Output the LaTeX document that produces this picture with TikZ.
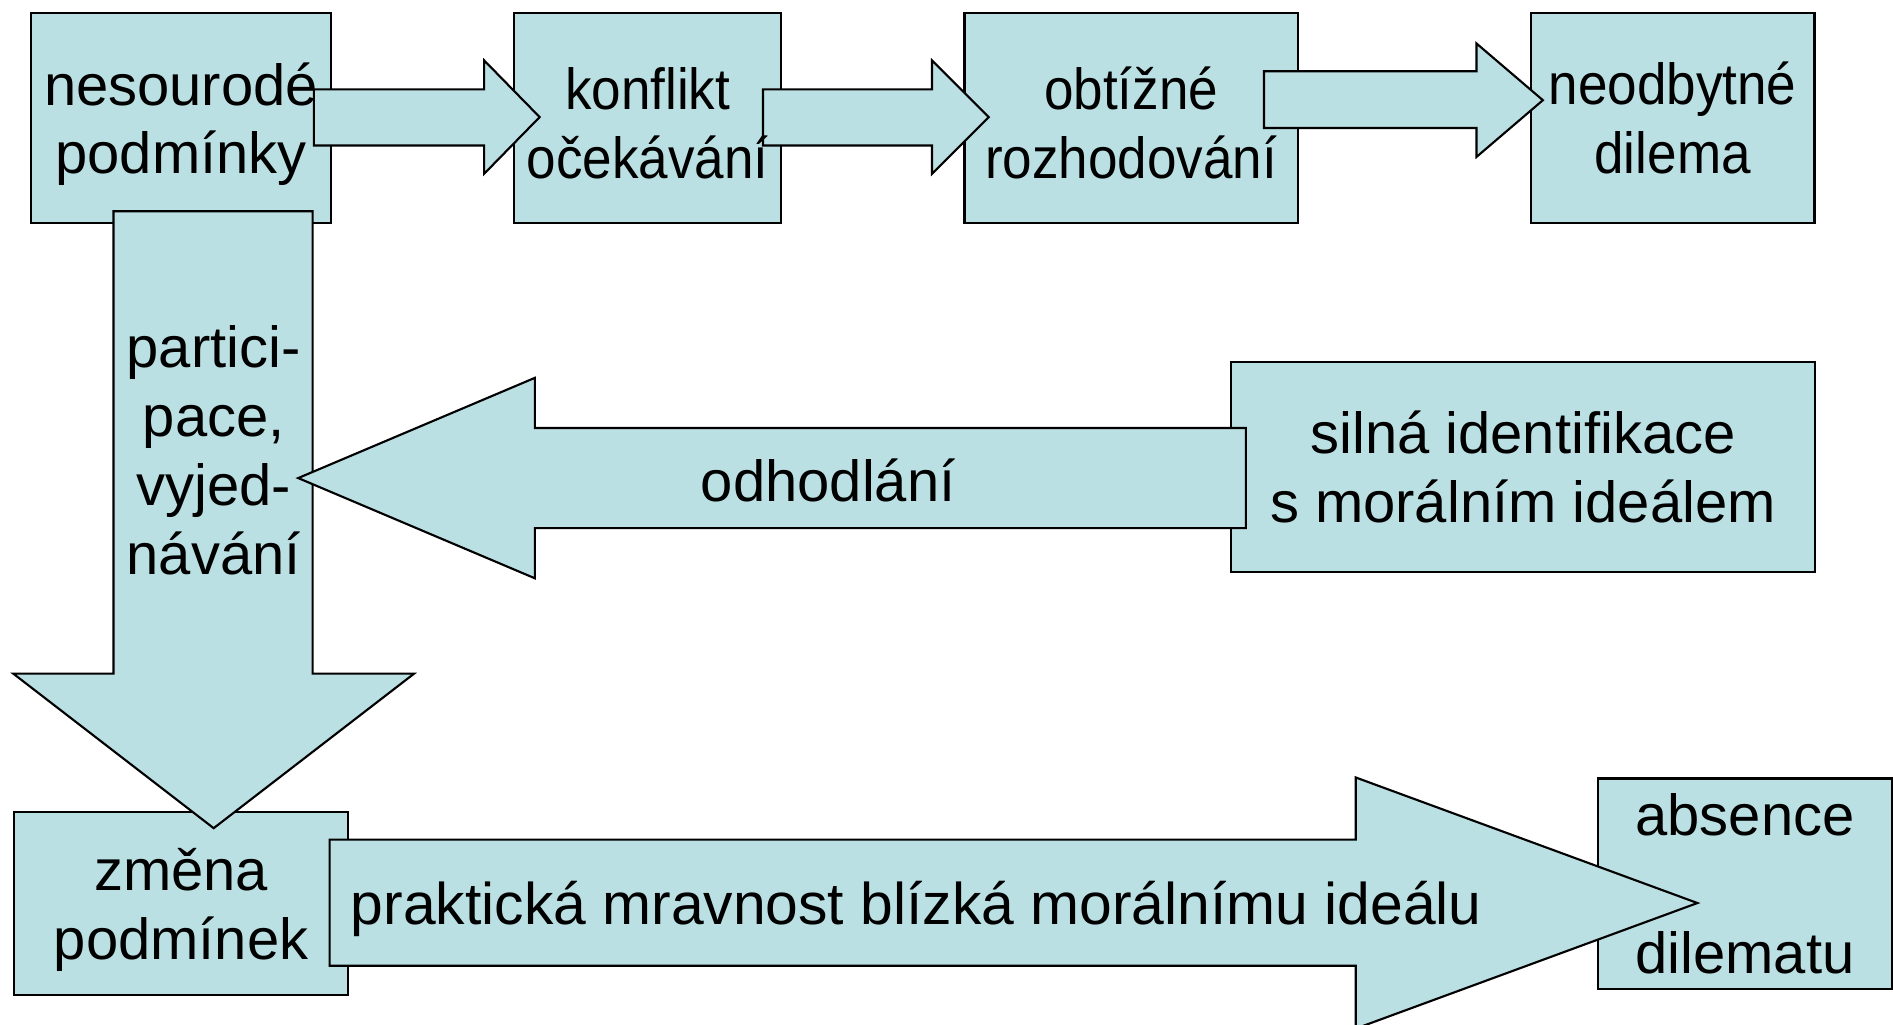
\documentclass[tikz,border=0pt]{standalone}
\usepackage{fontspec}
\usepackage{graphicx}
\setmainfont{Liberation Sans}
\usetikzlibrary{positioning}
\definecolor{paleteal}{HTML}{BBE0E3}
% horizontally condensed two-line text
\newcommand{\narrowtext}[1]{\scalebox{0.915}[1]{\begin{tabular}{@{}c@{}}#1\end{tabular}}}

\begin{document}
\begin{tikzpicture}[
        x=0.01cm, y=-0.01cm,
        box/.style={rectangle, draw, fill=paleteal, line width=0.5pt, inner sep=0pt, anchor=north west},
        blockarrow/.style={draw, fill=paleteal, line width=0.5pt, line join=miter},
        txt/.style={align=center, inner sep=0pt, font=\fontsize{13.65}{16.2}\selectfont}
    ]
        \useasboundingbox (0,0) rectangle (1568,849);

        % boxes
        \node[box, minimum width=2.48cm, minimum height=1.74cm] (nesourode) at (25,10) {};
        \node[box, minimum width=2.21cm, minimum height=1.74cm] (konflikt) at (425,10) {};
        \node[box, minimum width=2.76cm, minimum height=1.74cm] (obtizne) at (798,10) {};
        \node[box, minimum width=2.35cm, minimum height=1.74cm] (neodbytne) at (1267,10) {};
        \node[box, minimum width=4.83cm, minimum height=1.74cm] (silna) at (1019,299) {};
        \node[box, minimum width=2.76cm, minimum height=1.51cm] (zmena) at (11,672) {};
        \node[box, minimum width=2.43cm, minimum height=1.74cm] (absence) at (1323,644) {};

        % block arrows
        \draw[blockarrow] (94,175) -- (259,175) -- (259,558) -- (343,558) -- (177,686)
            -- (11,558) -- (94,558) -- cycle;
        \draw[blockarrow] (1032,354.5) -- (443,354.5) -- (443,313) -- (247,396)
            -- (443,479) -- (443,437.5) -- (1032,437.5) -- cycle;
        \draw[blockarrow] (260,74) -- (401,74) -- (401,50) -- (447,97) -- (401,144)
            -- (401,120.5) -- (260,120.5) -- cycle;
        \draw[blockarrow] (632,74) -- (772,74) -- (772,50) -- (819,97) -- (772,144)
            -- (772,120.5) -- (632,120.5) -- cycle;
        \draw[blockarrow] (1047,59) -- (1223,59) -- (1223,36) -- (1278,83) -- (1223,130)
            -- (1223,106) -- (1047,106) -- cycle;
        \draw[blockarrow] (273,695.5) -- (1123,695.5) -- (1123,644) -- (1406,748)
            -- (1123,852) -- (1123,800) -- (273,800) -- cycle;

        % texts
        \node[txt] (nesourodeText) at ([yshift=-0.05cm]nesourode.center) {nesourodé\\podmínky};
        \node[txt] (konfliktText) at ([yshift=-0.1cm]konflikt.center) {\narrowtext{konflikt\\očekávání}};
        \node[txt] (obtizneText) at ([yshift=-0.1cm]obtizne.center) {\narrowtext{obtížné\\rozhodování}};
        \node[txt] (neodbytneText) at ([yshift=-0.06cm]neodbytne.center) {\narrowtext{neodbytné\\dilema}};
        \node[txt] (silnaText) at (silna.center) {silná identifikace\\s morálním ideálem};
        \node[txt] (zmenaText) at ([yshift=-0.05cm]zmena.center) {změna\\podmínek};
        \node[txt] (absenceText) at (absence.center) {absence\\[\baselineskip]dilematu};
        \node[txt] (participace) at (177,373) {partici-\\pace,\\vyjed-\\návání};
        \node[txt] (odhodlani) at (686,398) {odhodlání};
        \node[txt, anchor=west, font=\fontsize{13.85}{16.2}\selectfont] (prakticka) at (290,753) {praktická mravnost blízká morálnímu ideálu};
\end{tikzpicture}
\end{document}
